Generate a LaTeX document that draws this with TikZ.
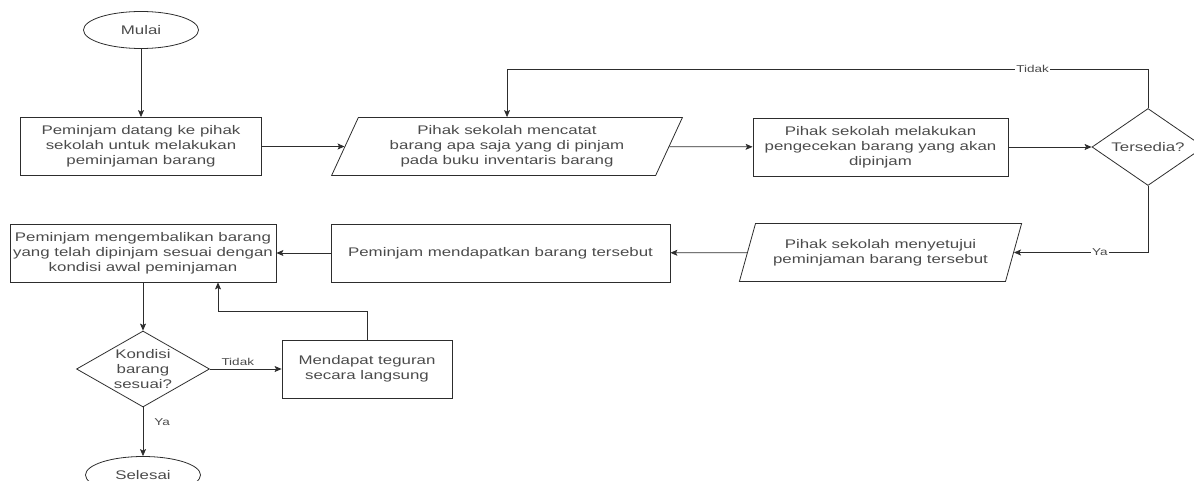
\documentclass[tikz,border=0pt]{standalone}
\usepackage{fontspec}
\setmainfont{Liberation Sans}[FakeStretch=1.35]
\usetikzlibrary{arrows.meta,positioning,shapes.geometric}
\definecolor{ink}{RGB}{45,45,45}
\definecolor{txt}{RGB}{75,75,75}
\tikzset{
  proc/.style={draw=ink,text=txt,align=center,minimum height=58pt,inner sep=2pt},
  io/.style={trapezium,trapezium left angle=64,trapezium right angle=116,trapezium stretches=true,
    draw=ink,text=txt,align=center,minimum height=58pt,inner sep=1pt},
  term/.style={ellipse,draw=ink,text=txt,minimum width=115pt,minimum height=37pt},
  cond/.style={diamond,draw=ink,text=txt,align=center,inner sep=0pt},
  flow/.style={draw=ink,line width=0.8pt,-{Stealth[length=7pt,width=6pt,inset=1.5pt]}},
  lbl/.style={font=\fontsize{10}{12}\selectfont,text=txt,inner sep=1pt}
}

\begin{document}
\begin{tikzpicture}[x=1pt,y=-1pt,font=\fontsize{12.5}{15}\selectfont,line width=0.8pt]
    \useasboundingbox (0,0) rectangle (1194,481);
    \node[term] (mulai) at (141,30) {Mulai};
    \foreach \n/\x/\y/\w/\t in {
      datang/141/146.5/241/Peminjam datang ke pihak\\sekolah untuk melakukan\\peminjaman barang,
      cek/880.5/147/255/Pihak sekolah melakukan\\pengecekan barang yang akan\\dipinjam,
      dapat/500.5/253/339/Peminjam mendapatkan barang tersebut,
      kembali/143/253/266/Peminjam mengembalikan barang\\yang telah dipinjam sesuai dengan\\kondisi awal peminjaman,
      tegur/367/369/170/Mendapat teguran\\secara langsung}
    {
      \node[proc,minimum width=\w pt] (\n) at (\x,\y) {\t};
    }
    \node[io,minimum width=352pt] (catat) at (507,146.5) {Pihak sekolah mencatat\\barang apa saja yang di pinjam\\pada buku inventaris barang};
    \node[io,minimum width=283pt] (setuju) at (880.5,252.5) {Pihak sekolah menyetujui\\peminjaman barang tersebut};
    \node[cond,minimum width=112pt,minimum height=77pt,aspect=1.45] (sedia) at (1148,147) {Tersedia?};
    \node[cond,minimum width=133pt,minimum height=76pt,aspect=1.75] (kondisi) at (143,369) {Kondisi\\barang\\sesuai?};
    \node[term] (selesai) at (143,475) {Selesai};

    \draw[flow] (mulai) -- (datang);
    \draw[flow] (datang) -- (catat);
    \draw[flow] (catat) -- (cek);
    \draw[flow] (cek) -- (sedia);
    \draw[flow] (sedia.north) -- ++(0,-39) -| node[lbl,fill=white,pos=0.09] {Tidak} (catat.north);
    \draw[flow] (sedia.south) |- node[lbl,fill=white,pos=0.68] {Ya} (setuju);
    \draw[flow] (setuju) -- (dapat);
    \draw[flow] (dapat) -- (kembali);
    \draw[flow] (kembali) -- (kondisi);
    \draw[flow] (kondisi) -- node[lbl,above=2pt,xshift=-8pt] {Tidak} (tegur);
    \draw[flow] (kondisi) -- node[lbl,right=10pt,pos=0.3] {Ya} (selesai);
    \draw[flow] (tegur.north) -- ++(0,-28) -| ([xshift=75pt]kembali.south);
  \end{tikzpicture}
\end{document}
